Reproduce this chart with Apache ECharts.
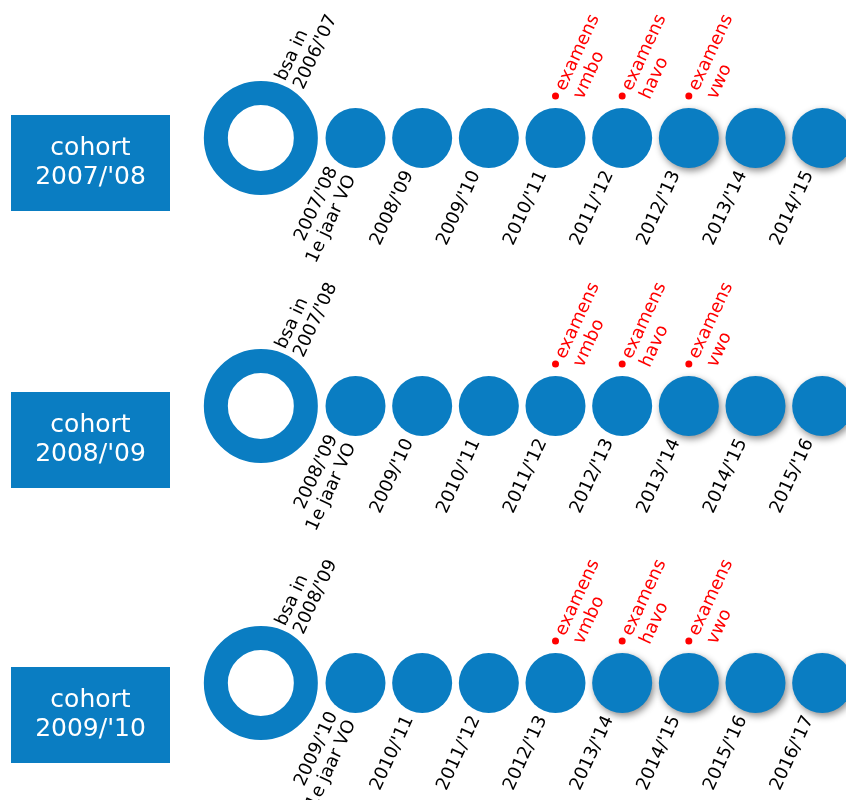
<!DOCTYPE html>
<html>
<head>
<meta charset="utf-8">
<script src="https://cdn.jsdelivr.net/npm/echarts@6/dist/echarts.min.js"></script>
<style>
  html,body{margin:0;padding:0;background:#fff;}
  #chart{width:846px;height:800px;}
</style>
</head>
<body>
<div id="chart"></div>
<script>
  // cohorts, one row each
  var cohorts = ["cohort\n2007/'08", "cohort\n2008/'09", "cohort\n2009/'10"];
  var bsaLabels = ["bsa in\n2006/'07", "bsa in\n2007/'08", "bsa in\n2008/'09"];
  var yearLabels = [
    ["2007/'08\n1e jaar VO", "2008/'09", "2009/'10", "2010/'11", "2011/'12", "2012/'13", "2013/'14", "2014/'15"],
    ["2008/'09\n1e jaar VO", "2009/'10", "2010/'11", "2011/'12", "2012/'13", "2013/'14", "2014/'15", "2015/'16"],
    ["2009/'10\n1e jaar VO", "2010/'11", "2011/'12", "2012/'13", "2013/'14", "2014/'15", "2015/'16", "2016/'17"]
  ];
  var examSlots = [3, 4, 5];
  var examLabels = ["examens\nvmbo", "examens\nhavo", "examens\nvwo"];
  // from which slot on the circles get a shadow
  var shadowFrom = [5, 5, 4];

  var blue = '#0A7DC2';
  var red = '#FF0000';
  var font = 'DejaVu Sans';

  // layout
  var rowCenters = [138, 406, 683];
  var boxShift = [25, 34, 32];
  var ringSlot = -1.42;
  var boxSlot = -3.975;
  var angle = 65;

  var chart = echarts.init(document.getElementById('chart'));

  var grids = [], xAxes = [], yAxes = [], series = [];

  cohorts.forEach(function(name, r){
    grids.push({left: 355.5, width: 466.67, top: rowCenters[r] - 50, height: 100});
    xAxes.push({gridIndex: r, type: 'value', min: 0, max: 7, show: false});
    yAxes.push({gridIndex: r, type: 'value', min: -1, max: 1, show: false});

    // cohort box
    series.push({
      type: 'scatter', xAxisIndex: r, yAxisIndex: r, clip: false, silent: true,
      symbol: 'rect', symbolSize: [159, 96], symbolOffset: [0, boxShift[r]],
      itemStyle: {color: blue, opacity: 1},
      label: {
        show: true, position: 'inside', formatter: name,
        color: '#fff', fontFamily: font, fontSize: 25, lineHeight: 29
      },
      data: [[boxSlot, 0]]
    });

    // bsa ring
    series.push({
      type: 'scatter', xAxisIndex: r, yAxisIndex: r, clip: false, silent: true,
      symbol: 'circle', symbolSize: 90,
      itemStyle: {color: '#fff', borderColor: blue, borderWidth: 24, opacity: 1},
      label: {
        show: true, position: [86, 3], rotate: angle, align: 'left', verticalAlign: 'middle',
        formatter: bsaLabels[r], color: '#000', fontFamily: font, fontSize: 18, lineHeight: 20
      },
      data: [[ringSlot, 0]]
    });

    // school years
    series.push({
      type: 'scatter', xAxisIndex: r, yAxisIndex: r, clip: false, silent: true,
      symbol: 'circle', symbolSize: 60,
      label: {
        show: true, position: [17, 64], rotate: angle, align: 'right', verticalAlign: 'middle',
        formatter: function(p){ return p.data.name; },
        color: '#000', fontFamily: font, fontSize: 18, lineHeight: 20
      },
      data: yearLabels[r].map(function(lbl, i){
        var item = {name: lbl, value: [i, 0], itemStyle: {color: blue, opacity: 1}};
        if (i >= shadowFrom[r]) {
          item.itemStyle.shadowBlur = 7;
          item.itemStyle.shadowColor = 'rgba(0,0,0,0.45)';
          item.itemStyle.shadowOffsetX = 2;
          item.itemStyle.shadowOffsetY = 3;
        }
        return item;
      })
    });

    // exams
    series.push({
      type: 'scatter', xAxisIndex: r, yAxisIndex: r, clip: false, silent: true,
      symbol: 'circle', symbolSize: 7, symbolOffset: [0, -42], z: 3,
      itemStyle: {color: red, opacity: 1},
      label: {
        show: true, position: [17.5, 1.5], rotate: angle, align: 'left', verticalAlign: 'middle',
        formatter: function(p){ return p.data.name; },
        color: red, fontFamily: font, fontSize: 18, lineHeight: 20
      },
      data: examSlots.map(function(s, i){
        return {name: examLabels[i], value: [s, 0]};
      })
    });
  });

  chart.setOption({
    animation: false,
    grid: grids,
    xAxis: xAxes,
    yAxis: yAxes,
    series: series
  });
</script>
</body>
</html>
